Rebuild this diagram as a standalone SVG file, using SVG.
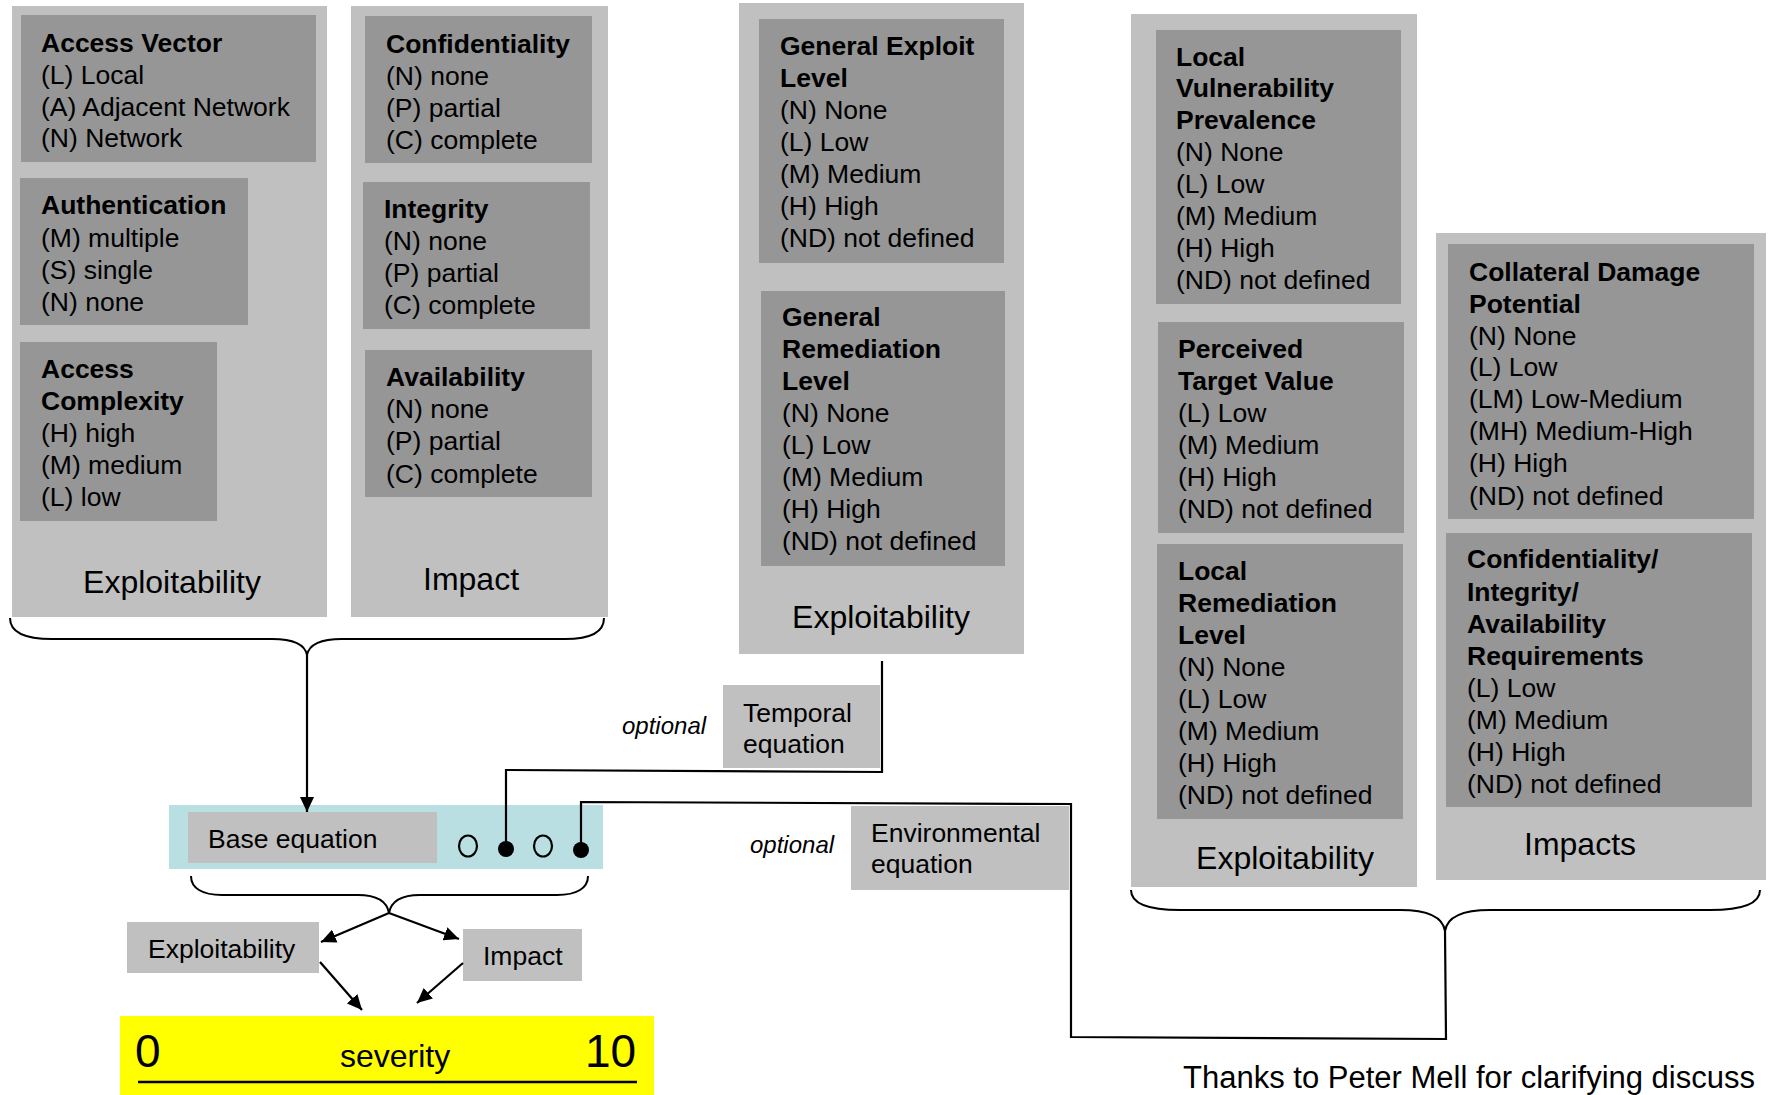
<svg xmlns="http://www.w3.org/2000/svg" width="1769" height="1095" viewBox="0 0 1769 1095">
  <style>
    text { font-family: "Liberation Sans", Arial, sans-serif; fill: #000; }
    .t { font-size: 26.5px; }
    .h { font-size: 26.5px; font-weight: bold; }
    .lbl { font-size: 32px; }
    .opt { font-size: 24px; font-style: italic; }
    .panel { fill: #c0c0c0; }
    .box { fill: #969696; }
    .lite { fill: #c0c0c0; }
    .wire { fill: none; stroke: #000; stroke-width: 2.2; }
    .brace { fill: none; stroke: #000; stroke-width: 2; }
  </style>
  <defs>
    <marker id="arrow" markerUnits="userSpaceOnUse" markerWidth="16" markerHeight="14" refX="15" refY="7" orient="auto">
      <path d="M0,0 L15,7 L0,14 z" fill="#000"/>
    </marker>
  </defs>

  <rect width="1769" height="1095" fill="#fff"/>

  <!-- Base metrics: exploitability group -->
  <g id="base-exploitability">
    <rect class="panel" x="12" y="6" width="315" height="611"/>
    <g id="access-vector">
      <rect class="box" x="21" y="15" width="295" height="147"/>
      <text class="h" x="41" y="52">Access Vector</text>
      <text class="t" x="41" y="84">(L) Local</text>
      <text class="t" x="41" y="116">(A) Adjacent Network</text>
      <text class="t" x="41" y="147">(N) Network</text>
    </g>
    <g id="authentication">
      <rect class="box" x="20" y="178" width="228" height="147"/>
      <text class="h" x="41" y="214">Authentication</text>
      <text class="t" x="41" y="247">(M) multiple</text>
      <text class="t" x="41" y="279">(S) single</text>
      <text class="t" x="41" y="311">(N) none</text>
    </g>
    <g id="access-complexity">
      <rect class="box" x="20" y="342" width="197" height="179"/>
      <text class="h" x="41" y="378">Access</text>
      <text class="h" x="41" y="410">Complexity</text>
      <text class="t" x="41" y="442">(H) high</text>
      <text class="t" x="41" y="474">(M) medium</text>
      <text class="t" x="41" y="506">(L) low</text>
    </g>
    <text class="lbl" x="172" y="593" text-anchor="middle">Exploitability</text>
  </g>

  <!-- Base metrics: impact group -->
  <g id="base-impact">
    <rect class="panel" x="351" y="6" width="257" height="611"/>
    <g id="confidentiality">
      <rect class="box" x="365" y="16" width="227" height="147"/>
      <text class="h" x="386" y="53">Confidentiality</text>
      <text class="t" x="386" y="85">(N) none</text>
      <text class="t" x="386" y="117">(P) partial</text>
      <text class="t" x="386" y="149">(C) complete</text>
    </g>
    <g id="integrity">
      <rect class="box" x="363" y="182" width="227" height="147"/>
      <text class="h" x="384" y="218">Integrity</text>
      <text class="t" x="384" y="250">(N) none</text>
      <text class="t" x="384" y="282">(P) partial</text>
      <text class="t" x="384" y="314">(C) complete</text>
    </g>
    <g id="availability">
      <rect class="box" x="365" y="350" width="227" height="147"/>
      <text class="h" x="386" y="386">Availability</text>
      <text class="t" x="386" y="418">(N) none</text>
      <text class="t" x="386" y="450">(P) partial</text>
      <text class="t" x="386" y="483">(C) complete</text>
    </g>
    <text class="lbl" x="471" y="590" text-anchor="middle">Impact</text>
  </g>

  <!-- Temporal metrics -->
  <g id="temporal-metrics">
    <rect class="panel" x="739" y="3" width="285" height="651"/>
    <g id="general-exploit-level">
      <rect class="box" x="759" y="19" width="245" height="244"/>
      <text class="h" x="780" y="55">General Exploit</text>
      <text class="h" x="780" y="87">Level</text>
      <text class="t" x="780" y="119">(N) None</text>
      <text class="t" x="780" y="151">(L) Low</text>
      <text class="t" x="780" y="183">(M) Medium</text>
      <text class="t" x="780" y="215">(H) High</text>
      <text class="t" x="780" y="247">(ND) not defined</text>
    </g>
    <g id="general-remediation-level">
      <rect class="box" x="761" y="291" width="244" height="275"/>
      <text class="h" x="782" y="326">General</text>
      <text class="h" x="782" y="358">Remediation</text>
      <text class="h" x="782" y="390">Level</text>
      <text class="t" x="782" y="422">(N) None</text>
      <text class="t" x="782" y="454">(L) Low</text>
      <text class="t" x="782" y="486">(M) Medium</text>
      <text class="t" x="782" y="518">(H) High</text>
      <text class="t" x="782" y="550">(ND) not defined</text>
    </g>
    <text class="lbl" x="881" y="628" text-anchor="middle">Exploitability</text>
  </g>

  <!-- Environmental metrics: exploitability group -->
  <g id="env-exploitability">
    <rect class="panel" x="1131" y="14" width="286" height="873"/>
    <g id="local-vulnerability-prevalence">
      <rect class="box" x="1156" y="30" width="245" height="274"/>
      <text class="h" x="1176" y="66">Local</text>
      <text class="h" x="1176" y="97">Vulnerability</text>
      <text class="h" x="1176" y="129">Prevalence</text>
      <text class="t" x="1176" y="161">(N) None</text>
      <text class="t" x="1176" y="193">(L) Low</text>
      <text class="t" x="1176" y="225">(M) Medium</text>
      <text class="t" x="1176" y="257">(H) High</text>
      <text class="t" x="1176" y="289">(ND) not defined</text>
    </g>
    <g id="perceived-target-value">
      <rect class="box" x="1158" y="322" width="246" height="211"/>
      <text class="h" x="1178" y="358">Perceived</text>
      <text class="h" x="1178" y="390">Target Value</text>
      <text class="t" x="1178" y="422">(L) Low</text>
      <text class="t" x="1178" y="454">(M) Medium</text>
      <text class="t" x="1178" y="486">(H) High</text>
      <text class="t" x="1178" y="518">(ND) not defined</text>
    </g>
    <g id="local-remediation-level">
      <rect class="box" x="1157" y="544" width="246" height="275"/>
      <text class="h" x="1178" y="580">Local</text>
      <text class="h" x="1178" y="612">Remediation</text>
      <text class="h" x="1178" y="644">Level</text>
      <text class="t" x="1178" y="676">(N) None</text>
      <text class="t" x="1178" y="708">(L) Low</text>
      <text class="t" x="1178" y="740">(M) Medium</text>
      <text class="t" x="1178" y="772">(H) High</text>
      <text class="t" x="1178" y="804">(ND) not defined</text>
    </g>
    <text class="lbl" x="1285" y="869" text-anchor="middle">Exploitability</text>
  </g>

  <!-- Environmental metrics: impacts group -->
  <g id="env-impacts">
    <rect class="panel" x="1436" y="233" width="330" height="647"/>
    <g id="collateral-damage-potential">
      <rect class="box" x="1448" y="244" width="306" height="275"/>
      <text class="h" x="1469" y="281">Collateral Damage</text>
      <text class="h" x="1469" y="313">Potential</text>
      <text class="t" x="1469" y="345">(N) None</text>
      <text class="t" x="1469" y="376">(L) Low</text>
      <text class="t" x="1469" y="408">(LM) Low-Medium</text>
      <text class="t" x="1469" y="440">(MH) Medium-High</text>
      <text class="t" x="1469" y="472">(H) High</text>
      <text class="t" x="1469" y="505">(ND) not defined</text>
    </g>
    <g id="cia-requirements">
      <rect class="box" x="1446" y="533" width="306" height="274"/>
      <text class="h" x="1467" y="568">Confidentiality/</text>
      <text class="h" x="1467" y="601">Integrity/</text>
      <text class="h" x="1467" y="633">Availability</text>
      <text class="h" x="1467" y="665">Requirements</text>
      <text class="t" x="1467" y="697">(L) Low</text>
      <text class="t" x="1467" y="729">(M) Medium</text>
      <text class="t" x="1467" y="761">(H) High</text>
      <text class="t" x="1467" y="793">(ND) not defined</text>
    </g>
    <text class="lbl" x="1580" y="855" text-anchor="middle">Impacts</text>
  </g>

  <!-- Equations -->
  <g id="base-equation">
    <rect x="169" y="805" width="434" height="64" fill="#b9dfe2"/>
    <rect class="lite" x="188" y="812" width="249" height="51"/>
    <text class="t" x="208" y="848">Base equation</text>
    <ellipse cx="468" cy="846" rx="9" ry="10.5" fill="none" stroke="#000" stroke-width="2.2"/>
    <circle cx="506" cy="849" r="8" fill="#000"/>
    <ellipse cx="543" cy="846" rx="9" ry="10.5" fill="none" stroke="#000" stroke-width="2.2"/>
    <circle cx="581" cy="850" r="8" fill="#000"/>
  </g>
  <g id="temporal-equation">
    <text class="opt" x="622" y="734">optional</text>
    <rect class="lite" x="723" y="685" width="157" height="83"/>
    <text class="t" x="743" y="722">Temporal</text>
    <text class="t" x="743" y="753">equation</text>
  </g>
  <g id="environmental-equation">
    <text class="opt" x="750" y="853">optional</text>
    <rect class="lite" x="851" y="806" width="218" height="84"/>
    <text class="t" x="871" y="842">Environmental</text>
    <text class="t" x="871" y="873">equation</text>
  </g>
  <g id="exploitability-subscore">
    <rect class="lite" x="127" y="922" width="192" height="51"/>
    <text class="t" x="148" y="958">Exploitability</text>
  </g>
  <g id="impact-subscore">
    <rect class="lite" x="463" y="929" width="119" height="52"/>
    <text class="t" x="483" y="965">Impact</text>
  </g>
  <g id="severity">
    <rect x="120" y="1016" width="534" height="79" fill="#ffff00"/>
    <text x="135" y="1067" font-size="46">0</text>
    <text x="340" y="1067" font-size="32">severity</text>
    <text x="585" y="1067" font-size="46">10</text>
    <line x1="138" y1="1082" x2="637" y2="1082" stroke="#000" stroke-width="2.5"/>
  </g>

  <!-- Connectors and braces -->
  <g id="connectors">
    <path class="brace" d="M10 618 C10 632 25 639 52 639 L272 639 C293 639 305 645 307 655 C309 645 321 639 342 639 L565 639 C590 639 604 632 604 618"/>
    <line class="wire" x1="307" y1="655" x2="307" y2="812" marker-end="url(#arrow)"/>
    <path class="brace" d="M191 876 C191 888 202 895 222 895 L358 895 C377 895 387 902 389 913 C391 902 401 895 420 895 L557 895 C577 895 588 888 588 876"/>
    <line class="wire" x1="389" y1="913" x2="321" y2="942" marker-end="url(#arrow)"/>
    <line class="wire" x1="389" y1="913" x2="459" y2="939" marker-end="url(#arrow)"/>
    <line class="wire" x1="320" y1="962" x2="362" y2="1010" marker-end="url(#arrow)"/>
    <line class="wire" x1="463" y1="963" x2="417" y2="1003" marker-end="url(#arrow)"/>
    <polyline class="wire" points="506,849 506,770 882,772 882,661"/>
    <path class="brace" d="M1131 890 C1131 903 1148 910 1180 910 L1400 910 C1430 910 1443 918 1445 931 C1447 918 1460 910 1490 910 L1710 910 C1745 910 1760 903 1760 890"/>
    <polyline class="wire" points="581,850 581,802 1071,804 1071,1037 1446,1039 1445,931"/>
  </g>

  <text x="1183" y="1088" font-size="31">Thanks to Peter Mell for clarifying discuss</text>
</svg>
